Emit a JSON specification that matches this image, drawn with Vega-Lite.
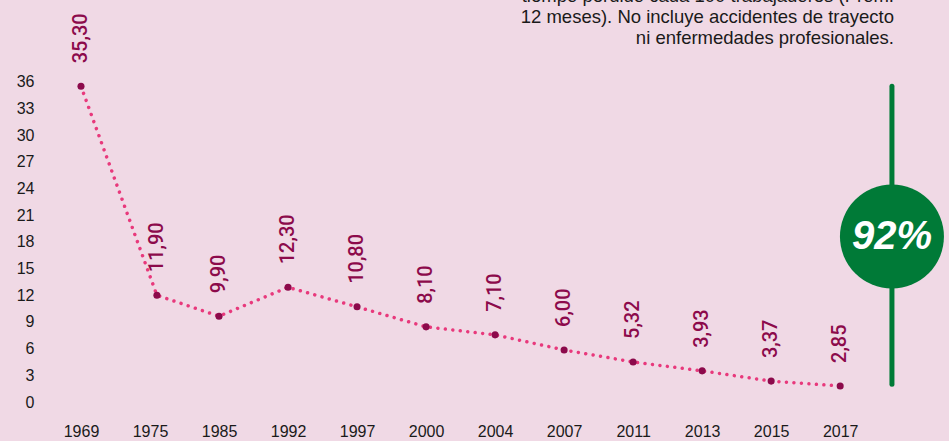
{
  "$schema": "https://vega.github.io/schema/vega-lite/v6.json",
  "autosize": {"type": "none"},
  "padding": {"left": 44, "top": 0, "right": 26, "bottom": 39},
  "width": 879,
  "height": 402,
  "background": "#f0d9e5",
  "config": {
    "view": {"stroke": null},
    "axis": {"labelFont": "Liberation Sans", "labelFontSize": 16, "labelColor": "#1a1a1a", "domain": false, "ticks": false, "grid": false, "title": null, "labelOverlap": false}
  },
  "datasets": {
    "series": [
      {"pos": 0, "year": "1969", "value": 35.5, "label": "35,30"},
      {"pos": 1.1, "year": "1975", "value": 12.0, "label": "11,90"},
      {"pos": 2, "year": "1985", "value": 9.65, "label": "9,90"},
      {"pos": 3, "year": "1992", "value": 12.9, "label": "12,30"},
      {"pos": 4, "year": "1997", "value": 10.7, "label": "10,80"},
      {"pos": 5, "year": "2000", "value": 8.45, "label": "8,10"},
      {"pos": 6, "year": "2004", "value": 7.55, "label": "7,10"},
      {"pos": 7, "year": "2007", "value": 5.85, "label": "6,00"},
      {"pos": 8, "year": "2011", "value": 4.5, "label": "5,32"},
      {"pos": 9, "year": "2013", "value": 3.5, "label": "3,93"},
      {"pos": 10, "year": "2015", "value": 2.35, "label": "3,37"},
      {"pos": 11, "year": "2017", "value": 1.8, "label": "2,85"}
    ],
    "marker": [{"pos": 11.75, "top": 35.5, "bottom": 2.0, "mid": 18.6, "text": "92%"}],
    "note": [{"pos": 11.78, "y": 45.65, "text": "tiempo perdido cada 100 trabajadores (Prom.\n12 meses). No incluye accidentes de trayecto\nni enfermedades profesionales."}]
  },
  "layer": [
    {
      "data": {"name": "series"},
      "mark": {"type": "line", "color": "#e8397c", "strokeWidth": 3.5, "strokeCap": "round", "strokeDash": [0.01, 7.5]},
      "encoding": {
        "x": {"field": "pos", "type": "quantitative", "scale": {"domain": [-0.536, 12.2], "nice": false, "zero": false},
              "axis": {"values": [0,1,2,3,4,5,6,7,8,9,10,11], "tickCount": 30, "labelExpr": "['1969','1975','1985','1992','1997','2000','2004','2007','2011','2013','2015','2017'][datum.value]", "labelPadding": 21, "labelOverlap": false}},
        "y": {"field": "value", "type": "quantitative", "scale": {"domain": [0, 45.2], "nice": false},
              "axis": {"values": [0,3,6,9,12,15,18,21,24,27,30,33,36], "tickCount": 30, "labelPadding": 10, "labelOverlap": false, "labelBound": false}}
      }
    },
    {
      "data": {"name": "series"},
      "mark": {"type": "point", "filled": true, "color": "#8c0a4b", "size": 50, "opacity": 1},
      "encoding": {
        "x": {"field": "pos", "type": "quantitative"},
        "y": {"field": "value", "type": "quantitative"}
      }
    },
    {
      "data": {"name": "series"},
      "mark": {"type": "text", "angle": 270, "align": "left", "baseline": "middle", "dx": 23, "font": "Roboto", "fontWeight": 500, "fontSize": 20, "color": "#8c0a4b"},
      "encoding": {
        "x": {"field": "pos", "type": "quantitative"},
        "y": {"field": "value", "type": "quantitative"},
        "text": {"field": "label"}
      }
    },
    {
      "data": {"name": "marker"},
      "mark": {"type": "rule", "color": "#007a37", "strokeWidth": 5, "strokeCap": "round"},
      "encoding": {
        "x": {"field": "pos", "type": "quantitative"},
        "y": {"field": "top", "type": "quantitative"},
        "y2": {"field": "bottom"}
      }
    },
    {
      "data": {"name": "marker"},
      "mark": {"type": "point", "shape": "circle", "filled": true, "color": "#007a37", "size": 10816, "opacity": 1},
      "encoding": {
        "x": {"field": "pos", "type": "quantitative"},
        "y": {"field": "mid", "type": "quantitative"}
      }
    },
    {
      "data": {"name": "marker"},
      "mark": {"type": "text", "font": "Liberation Sans", "fontWeight": "bold", "fontStyle": "italic", "fontSize": 40, "color": "#ffffff", "align": "center", "baseline": "middle"},
      "encoding": {
        "x": {"field": "pos", "type": "quantitative"},
        "y": {"field": "mid", "type": "quantitative"},
        "text": {"field": "text"}
      }
    },
    {
      "data": {"name": "note"},
      "mark": {"type": "text", "font": "Liberation Sans", "fontSize": 18.5, "color": "#1a1a1a", "align": "right", "baseline": "middle", "lineBreak": "\n", "lineHeight": 21},
      "encoding": {
        "x": {"field": "pos", "type": "quantitative"},
        "y": {"field": "y", "type": "quantitative"},
        "text": {"field": "text"}
      }
    }
  ]
}
